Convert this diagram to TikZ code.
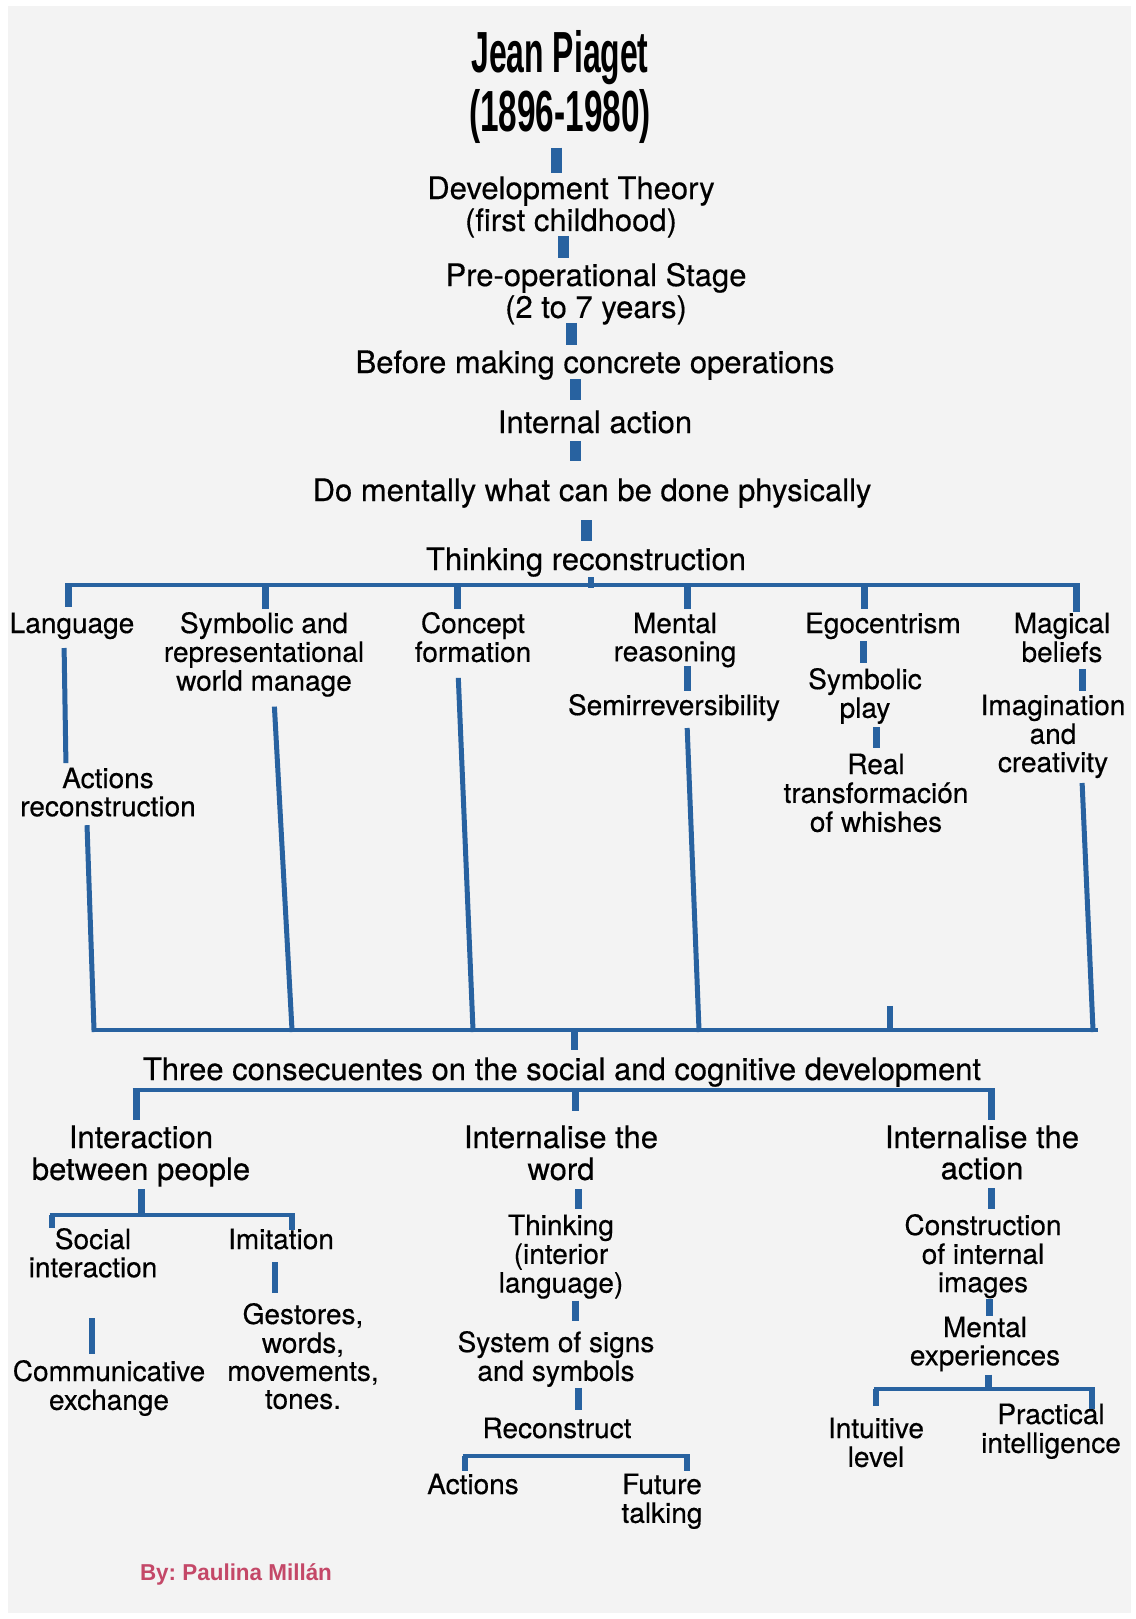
\documentclass[tikz,border=0pt]{standalone}
\usepackage{fontspec}
\setmainfont{TeX Gyre Heros}[FakeBold=0.4]
\newfontfamily\titlefont{Liberation Sans}
\usepackage{graphicx}
\frenchspacing
\newcommand\mlab[1]{\begin{tabular}[t]{@{}c@{}}#1\end{tabular}}
\definecolor{pblue}{RGB}{40,98,160}
\definecolor{bgc}{RGB}{243,243,243}
\definecolor{pink}{RGB}{196,72,104}
\begin{document}
\begin{tikzpicture}[x=1pt,y=-1pt,
  lbl/.style={anchor=base, inner sep=0pt, outer sep=0pt, text=black},
  bigt/.style={lbl, font=\fontsize{31}{31}\selectfont},
  smallt/.style={lbl, font=\fontsize{28}{28}\selectfont},
  mainbar/.style={draw=pblue, line width=11pt},
  medbar/.style={draw=pblue, line width=7pt},
  smbar/.style={draw=pblue, line width=5.5pt},
  longline/.style={draw=pblue, line width=5pt},
  hl/.style={draw=pblue, line width=4.5pt}]
\useasboundingbox (0,0) rectangle (1135,1619);
\fill[white] (0,0) rectangle (1135,1619);
\fill[bgc] (8,6) rectangle (1131,1613);

% ---- nodes ----
\node[lbl, font=\fontsize{58}{59}\selectfont\titlefont\bfseries] (title) at (560,72)
  {\mlab{\scalebox{0.55}[1]{Jean Piaget}\\\scalebox{0.575}[1]{(1896-1980)}}};
\node[bigt] (dev) at (571,199) {\mlab{Development Theory\\(first childhood)}};
\node[bigt] (preop) at (596,286) {\mlab{Pre-operational Stage\\(2 to 7 years)}};
\node[bigt] (before) at (595,373) {\mlab{Before making concrete operations}};
\node[bigt] (internal) at (595,433) {\mlab{Internal action}};
\node[bigt] (mentally) at (592,501) {\mlab{Do mentally what can be done physically}};
\node[bigt] (thinking) at (586,570) {\mlab{Thinking reconstruction}};

\node[smallt] (lang) at (72,633) {\mlab{Language}};
\node[smallt] (symb) at (264,633) {\mlab{Symbolic and\\representational\\world manage}};
\node[smallt] (concept) at (473,633) {\mlab{Concept\\formation}};
\node[smallt] (mental) at (675,633) {\mlab{Mental\\reasoning}};
\node[smallt] (ego) at (883,633) {\mlab{Egocentrism}};
\node[smallt] (magic) at (1062,633) {\mlab{Magical\\beliefs}};
\node[smallt] (actrec) at (108,788) {\mlab{Actions\\reconstruction}};
\node[smallt] (semi) at (674,715) {\mlab{Semirreversibility}};
\node[smallt] (symplay) at (865,689) {\mlab{Symbolic\\play}};
\node[smallt] (real) at (876,774) {\mlab{Real\\transformación\\of whishes}};
\node[smallt] (imag) at (1053,715) {\mlab{Imagination\\and\\creativity}};

\node[bigt] (three) at (562,1080) {\mlab{Three consecuentes on the social and cognitive development}};
\node[bigt] (inter) at (141,1148) {\mlab{Interaction\\between people}};
\node[bigt] (iword) at (561,1148) {\mlab{Internalise the\\word}};
\node[bigt] (iaction) at (982,1148) {\mlab{Internalise the\\action}};

\node[smallt] (social) at (93,1249) {\mlab{Social\\interaction}};
\node[smallt] (imit) at (281,1249) {\mlab{Imitation}};
\node[smallt] (comm) at (109,1381) {\mlab{Communicative\\exchange}};
\node[smallt] (gest) at (303,1324) {\mlab{Gestores,\\words,\\movements,\\tones.}};
\node[smallt] (thinkint) at (561,1235) {\mlab{Thinking\\(interior\\language)}};
\node[smallt] (signs) at (556,1352) {\mlab{System of signs\\and symbols}};
\node[smallt] (recon) at (557,1438) {\mlab{Reconstruct}};
\node[smallt] (actions) at (473,1494) {\mlab{Actions}};
\node[smallt] (future) at (662,1494) {\mlab{Future\\talking}};
\node[smallt] (constr) at (983,1235) {\mlab{Construction\\of internal\\images}};
\node[smallt] (mexp) at (985,1337) {\mlab{Mental\\experiences}};
\node[smallt] (intuit) at (876,1438) {\mlab{Intuitive\\level}};
\node[smallt] (pract) at (1051,1424) {\mlab{Practical\\intelligence}};

\node[lbl, font=\fontsize{23}{23}\selectfont\titlefont\bfseries, text=pink] (footer) at (236,1580)
  {\scalebox{0.975}[1]{By: Paulina Millán}};

% ---- junction coordinates ----
\coordinate (h1) at (591,585);
\coordinate (h2) at (574,1030);
\coordinate (h3) at (575,1090);
\coordinate (h4) at (141,1215);
\coordinate (h6) at (988,1389);
\coordinate (h5a) at (465,1456);
\coordinate (h5b) at (687,1456);

% ---- main chain ----
\draw[mainbar, shorten <=-1.7pt, shorten >=3.3pt] (title.south -| 556,0) -- (dev.north -| 556,0);
\draw[mainbar, shorten <=-4.3pt, shorten >=5.3pt] (dev.south -| 563,0) -- (preop.north -| 563,0);
\draw[mainbar, shorten <=-4.3pt, shorten >=5.3pt] (preop.south -| 571,0) -- (before.north -| 571,0);
\draw[mainbar, shorten <=-3.3pt, shorten >=10.3pt] (before.south -| 575,0) -- (internal.north -| 575,0);
\draw[mainbar, shorten <=-1.3pt, shorten >=17.3pt] (internal.south -| 575,0) -- (mentally.north -| 575,0);
\draw[mainbar, shorten <=9.7pt, shorten >=6.3pt] (mentally.south -| 586,0) -- (thinking.north -| 586,0);
\draw[smbar, shorten <=-2.3pt, shorten >=-3pt] (thinking.south -| h1) -- (h1);

% ---- first branching ----
\draw[hl] (h1 -| 65,0) -- (h1 -| 1080,0);
\draw[medbar, shorten >=5.4pt] (h1 -| 68,0) -- (lang.north -| 68,0);
\draw[medbar, shorten >=3.4pt] (h1 -| 265,0) -- (symb.north -| 265,0);
\draw[medbar, shorten >=3.4pt] (h1 -| 457,0) -- (concept.north -| 457,0);
\draw[medbar, shorten >=3.4pt] (h1 -| 687,0) -- (mental.north -| 687,0);
\draw[medbar, shorten >=3.4pt] (h1 -| 864,0) -- (ego.north -| 864,0);
\draw[medbar, shorten >=0.4pt] (h1 -| 1076,0) -- (magic.north -| 1076,0);

% ---- column links ----
\draw[longline, shorten <=6.6pt, shorten >=4.4pt] (lang.south -| 64,0) -- (actrec.north -| 66,0);
\draw[longline, shorten <=0.6pt, shorten >=-2pt] (actrec.south -| 87,0) -- (h2 -| 94,0);
\draw[longline, shorten <=7.6pt, shorten >=-2pt] (symb.south -| 274,0) -- (h2 -| 292,0);
\draw[longline, shorten <=7.6pt, shorten >=-2pt] (concept.south -| 458,0) -- (h2 -| 473,0);
\draw[medbar, shorten <=-3.4pt, shorten >=3.4pt] (mental.south -| 687,0) -- (semi.north -| 687,0);
\draw[longline, shorten <=4.6pt, shorten >=-2pt] (semi.south -| 687,0) -- (h2 -| 699,0);
\draw[medbar, shorten <=-0.4pt, shorten >=5.4pt] (ego.south -| 863,0) -- (symplay.north -| 863,0);
\draw[medbar, shorten <=1pt, shorten >=5.4pt] (symplay.south -| 876,0) -- (real.north -| 876,0);
\draw[smbar, shorten <=165.6pt, shorten >=-2pt] (real.south -| 890,0) -- (h2 -| 890,0);
\draw[medbar, shorten <=-1.4pt, shorten >=3.4pt] (magic.south -| 1082,0) -- (imag.north -| 1082,0);
\draw[longline, shorten <=2.6pt, shorten >=-2pt] (imag.south -| 1082,0) -- (h2 -| 1093,0);

% ---- second level ----
\draw[hl] (h2 -| 92,0) -- (h2 -| 1098,0);
\draw[medbar, shorten >=7.3pt] (h2) -- (three.north -| h2);
\draw[hl] (h3 -| 132.5,0) -- (h3 -| 994.5,0);
\draw[medbar, shorten >=5.3pt] (h3 -| 136,0) -- (inter.north -| 136,0);
\draw[medbar, shorten >=14.3pt] (h3) -- (iword.north -| h3);
\draw[medbar, shorten >=5.3pt] (h3 -| 991,0) -- (iaction.north -| 991,0);

% ---- left subtree ----
\draw[medbar, shorten <=-0.3pt] (inter.south -| h4) -- (h4);
\draw[hl] (h4 -| 49.5,0) -- (h4 -| 294.5,0);
\draw[smbar, shorten >=0.4pt] (h4 -| 52,0) -- (social.north -| 52,0);
\draw[smbar, shorten >=-1.6pt] (h4 -| 292,0) -- (imit.north -| 292,0);
\draw[smbar, shorten <=32.6pt, shorten >=6.4pt] (social.south -| 92,0) -- (comm.north -| 92,0);
\draw[smbar, shorten <=4.6pt, shorten >=10.4pt] (imit.south -| 275,0) -- (gest.north -| 275,0);

% ---- middle subtree ----
\draw[medbar, shorten <=-0.3pt, shorten >=5.4pt] (iword.south -| 578,0) -- (thinkint.north -| 578,0);
\draw[medbar, shorten <=-0.4pt, shorten >=10.4pt] (thinkint.south -| 575,0) -- (signs.north -| 575,0);
\draw[medbar, shorten <=-1.4pt, shorten >=7.4pt] (signs.south -| 578,0) -- (recon.north -| 578,0);
\draw[hl] ([xshift=-2.5pt]h5a) -- ([xshift=2.5pt]h5b);
\draw[smbar, shorten >=2.4pt] (h5a) -- (actions.north -| h5a);
\draw[smbar, shorten >=2.4pt] (h5b) -- (future.north -| h5b);

% ---- right subtree ----
\draw[medbar, shorten <=-0.3pt, shorten >=5.4pt] (iaction.south -| 991,0) -- (constr.north -| 991,0);
\draw[medbar, shorten <=-1.4pt, shorten >=0.4pt] (constr.south -| 989,0) -- (mexp.north -| 989,0);
\draw[medbar, shorten <=1pt] (mexp.south -| h6) -- (h6);
\draw[hl] (h6 -| 873.5,0) -- (h6 -| 1094.5,0);
\draw[smbar, shorten >=11.4pt] (h6 -| 876,0) -- (intuit.north -| 876,0);
\draw[smbar, shorten >=-5.6pt] (h6 -| 1092,0) -- (pract.north -| 1092,0);
\end{tikzpicture}
\end{document}
